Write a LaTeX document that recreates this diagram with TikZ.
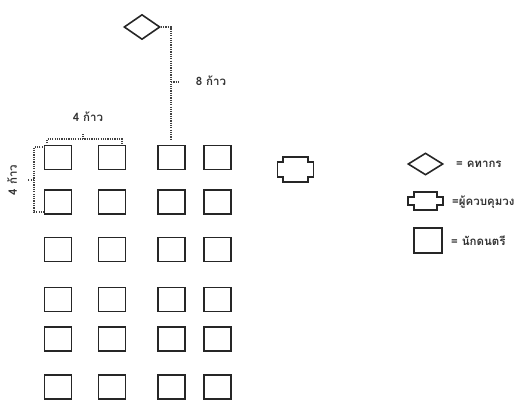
\documentclass[tikz,border=0pt]{standalone}
\usepackage{fontspec}
\newfontfamily\thaifont[Script=Thai]{Loma}
\usetikzlibrary{shapes.geometric}
\tikzset{
  seat/.style={draw=black!85, line width=1.6pt, minimum width=27pt, minimum height=24pt, inner sep=0pt},
  mace/.style={draw=black!85, shape=diamond, line width=1.6pt, minimum width=36pt, minimum height=25pt, inner sep=0pt},
  dimline/.style={line width=1.3pt, black!75, dash pattern=on 1.2pt off 1.1pt},
  lbl/.style={font=\thaifont\bfseries\fontsize{11.5}{13}\selectfont, text=black!80, inner sep=0pt},
  pics/conductor/.style n args={4}{code={\draw[draw=black!85, line width=1.6pt, line join=miter]
     (-#2,-#3) -- (#2,-#3) -- (#2,-#4) -- (#1,-#4) -- (#1,#4) -- (#2,#4)
     -- (#2,#3) -- (-#2,#3) -- (-#2,#4) -- (-#1,#4) -- (-#1,-#4) -- (-#2,-#4) -- cycle;}}
}
\begin{document}
\begin{tikzpicture}[x=1pt,y=-1pt]
\useasboundingbox (0,0) rectangle (516,402);
\clip (0,0) rectangle (516,402);
% musicians
\foreach \c/\x in {1/58,2/112,3/171.5,4/217.5}{
  \foreach \r/\y in {1/157.5,2/202,3/249.5,4/299.5,5/339,6/387}{
    \node[seat] (s-\r-\c) at (\x,\y) {};
  }
}
% drum major
\node[mace] (mace) at (142,27) {};
% conductor
\pic (cond) at (295.5,169.5) {conductor={18}{12.5}{12.5}{7.5}};
% 8 steps
\coordinate (v8top) at (171,27);
\coordinate (v8bot) at (171,139);
\coordinate (v8m) at (171,82);
\coordinate (v8t) at (178,82);
\draw[dimline] (mace.east) -- (v8top) -- (v8bot);
\draw[dimline] (v8m) -- (v8t);
\node[lbl] (l8) at (211,81) {8 ก้าว};
% 4 steps horizontal
\coordinate (h1) at (47,143);
\coordinate (h2) at (47,139);
\coordinate (h3) at (122,139);
\coordinate (h4) at (122,145);
\coordinate (hm1) at (83,139);
\coordinate (hm2) at (83,134);
\draw[dimline] (h1) -- (h2) -- (h3) -- (h4);
\draw[dimline] (hm1) -- (hm2);
\node[lbl] (l4h) at (88,117) {4 ก้าว};
% 4 steps vertical
\coordinate (w1) at (45,147);
\coordinate (w2) at (34,147);
\coordinate (w3) at (34,212);
\coordinate (w4) at (45,212);
\coordinate (wm1) at (34,180);
\coordinate (wm2) at (28,180);
\draw[dimline] (w1) -- (w2) -- (w3) -- (w4);
\draw[dimline] (wm1) -- (wm2);
\node[lbl, rotate=90] (l4v) at (12,180) {4 ก้าว};
% legend
\node[mace, minimum width=35pt, minimum height=22pt] (lg1) at (425.5,164) {};
\node[lbl, anchor=west] (lt1) at (456,164) {= คทากร};
\pic (lg2) at (425.5,201) {conductor={17.5}{11.5}{9}{4}};
\node[lbl, anchor=west] (lt2) at (452,202) {=ผู้ควบคุมวง};
\node[seat, minimum width=28pt, minimum height=25pt] (lg3) at (428,240.5) {};
\node[lbl, anchor=west] (lt3) at (451,241) {= นักดนตรี};
\end{tikzpicture}
\end{document}
